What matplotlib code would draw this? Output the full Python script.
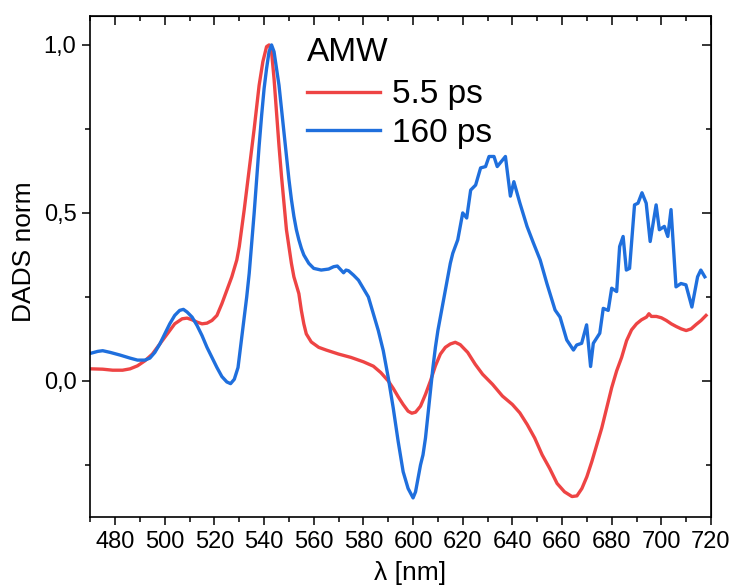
import numpy as np
import matplotlib
matplotlib.use('Agg')
import matplotlib.pyplot as plt
from matplotlib.ticker import MultipleLocator, FuncFormatter

plt.rcParams['font.family'] = ['Liberation Sans', 'DejaVu Sans']

# 5.5 ps component
wl_fast = [470.5, 475, 479, 483, 486, 489, 492, 495, 498, 501, 504, 507, 509, 511,
           513, 515, 517, 519, 521, 523, 525, 527, 529, 530, 532, 534, 536, 538,
           539.5, 541, 542, 543, 544, 545, 546, 547, 548, 549, 550, 551, 552, 554,
           555, 556, 557, 559, 562, 565, 570, 575, 580, 584, 587, 590, 592, 594,
           596, 598, 599.5, 601, 603, 605, 607, 609, 611, 613, 615, 617, 619, 622,
           625, 628, 632, 636, 640, 643, 646, 649, 652, 655, 658, 661, 664, 666,
           668, 670, 672, 674, 676, 678, 680, 682, 684, 686, 688, 690, 692, 694,
           695, 696, 698, 700, 702, 704, 706, 708, 710, 712, 714, 716, 718]
dads_fast = [0.036, 0.035, 0.032, 0.032, 0.036, 0.045, 0.06, 0.08, 0.11, 0.14, 0.17,
             0.185, 0.187, 0.182, 0.175, 0.17, 0.172, 0.18, 0.195, 0.23, 0.27, 0.31,
             0.36, 0.40, 0.51, 0.63, 0.75, 0.88, 0.95, 0.995, 1.0, 0.98, 0.90, 0.80,
             0.70, 0.61, 0.53, 0.45, 0.40, 0.35, 0.31, 0.26, 0.21, 0.17, 0.14, 0.116,
             0.10, 0.092, 0.08, 0.07, 0.057, 0.044, 0.025, 0.0, -0.022, -0.047, -0.07,
             -0.09, -0.096, -0.093, -0.075, -0.04, 0.0, 0.045, 0.08, 0.10, 0.11,
             0.115, 0.108, 0.085, 0.05, 0.02, -0.01, -0.045, -0.07, -0.095, -0.13,
             -0.17, -0.22, -0.26, -0.305, -0.33, -0.344, -0.342, -0.32, -0.285, -0.24,
             -0.19, -0.14, -0.08, -0.02, 0.03, 0.07, 0.12, 0.152, 0.17, 0.182, 0.19,
             0.20, 0.192, 0.192, 0.188, 0.18, 0.17, 0.162, 0.155, 0.15, 0.155, 0.168,
             0.18, 0.195]

# 160 ps component
wl_slow = [470.5, 473, 475, 478, 482, 486, 489, 492, 494, 496, 498, 500, 502, 504,
           506, 507.5, 509, 511, 513, 515, 517, 519, 521, 523, 525, 526.5, 528,
           529.5, 531, 532, 533, 534, 535, 536, 537, 538, 539, 540, 541, 542, 543,
           544, 545, 546, 547, 548, 549, 550, 551, 552, 553, 554, 555, 556, 558,
           560, 563, 566, 568, 569.5, 571, 572, 573, 574, 576, 578, 580, 582, 584,
           586, 588, 590, 592, 594, 596, 598, 600, 601, 602, 603, 604, 605, 606,
           607, 608, 609, 610, 611, 612, 613, 614, 615, 616, 617, 618, 619, 620,
           621.6, 623.2, 625.2, 627.2, 629.2, 630.6, 632.6, 633.9, 637.2, 639.2,
           640.6, 643, 645.9, 648.5, 651.2, 653.9, 657.2, 659.2, 661.9, 664.6,
           665.9, 667.9, 669.9, 671.5, 672.6, 675.2, 676.6, 678.6, 680, 682, 683.2,
           684.6, 685.9, 687.2, 689.2, 690.6, 692.2, 693.9, 695.5, 697.9, 699.2,
           701.2, 702.6, 703.9, 705.9, 707.9, 709.9, 712.3, 714.6, 715.9, 717.5]
dads_slow = [0.083, 0.088, 0.09, 0.085, 0.077, 0.068, 0.062, 0.062, 0.068, 0.085,
             0.11, 0.14, 0.17, 0.195, 0.21, 0.213, 0.205, 0.19, 0.165, 0.135, 0.10,
             0.07, 0.04, 0.013, -0.003, -0.008, 0.005, 0.04, 0.13, 0.19, 0.25, 0.32,
             0.41, 0.50, 0.60, 0.70, 0.79, 0.87, 0.93, 0.98, 1.0, 0.98, 0.93, 0.88,
             0.81, 0.74, 0.67, 0.60, 0.54, 0.49, 0.45, 0.42, 0.395, 0.375, 0.35,
             0.335, 0.33, 0.333, 0.34, 0.342, 0.33, 0.322, 0.33, 0.328, 0.315, 0.30,
             0.275, 0.25, 0.20, 0.15, 0.09, 0.01, -0.08, -0.18, -0.27, -0.32, -0.348,
             -0.33, -0.29, -0.25, -0.22, -0.17, -0.10, -0.03, 0.04, 0.10, 0.15, 0.19,
             0.23, 0.27, 0.31, 0.35, 0.38, 0.40, 0.42, 0.46, 0.50, 0.485, 0.568,
             0.583, 0.634, 0.638, 0.668, 0.668, 0.638, 0.668, 0.55, 0.593, 0.53,
             0.46, 0.41, 0.36, 0.29, 0.211, 0.19, 0.122, 0.092, 0.107, 0.112, 0.167,
             0.043, 0.112, 0.142, 0.216, 0.21, 0.276, 0.266, 0.40, 0.43, 0.33, 0.335,
             0.524, 0.529, 0.56, 0.529, 0.415, 0.524, 0.45, 0.46, 0.43, 0.51, 0.28,
             0.29, 0.286, 0.22, 0.31, 0.33, 0.31]

xticks = [480, 500, 520, 540, 560, 580, 600, 620, 640, 660, 680, 700, 720]
yticks = [0.0, 0.5, 1.0]

red = '#EE4444'
blue = '#1F6FDD'

fig = plt.figure(figsize=(7.32, 5.85), dpi=100)
ax = fig.add_axes([90.3 / 732, (585 - 516.7) / 585, 620.7 / 732, 501 / 585])

ax.plot(wl_fast, dads_fast, color=red, lw=2.4, label='5.5 ps')
ax.plot(wl_slow, dads_slow, color=blue, lw=2.4, label='160 ps')

ax.set_xlim(470, 720)
ax.set_ylim(-0.404, 1.087)
ax.set_xticks(xticks)
ax.xaxis.set_minor_locator(MultipleLocator(10))
ax.set_yticks(yticks)
ax.yaxis.set_minor_locator(MultipleLocator(0.25))
ax.yaxis.set_major_formatter(FuncFormatter(lambda v, p: ('%.1f' % v).replace('.', ',')))

for s in ax.spines.values():
    s.set_linewidth(1.2)
ax.tick_params(which='major', direction='out', length=6, width=1.1, labelsize=17, pad=4)
ax.tick_params(which='minor', direction='out', length=3.5, width=1.1)

# inward ticks on top and right
top = ax.secondary_xaxis('top')
top.set_xticks(xticks)
top.xaxis.set_minor_locator(MultipleLocator(10))
top.tick_params(which='major', direction='in', length=6.5, width=1.1, labeltop=False)
top.tick_params(which='minor', direction='in', length=3.5, width=1.1)
right = ax.secondary_yaxis('right')
right.set_yticks(yticks)
right.yaxis.set_minor_locator(MultipleLocator(0.25))
right.tick_params(which='major', direction='in', length=6.5, width=1.1, labelright=False)
right.tick_params(which='minor', direction='in', length=3.5, width=1.1)

ax.set_xlabel('λ [nm]', fontsize=19)
ax.xaxis.set_label_coords(0.515, -0.089)
ax.set_ylabel('DADS norm', fontsize=19)
ax.yaxis.set_label_coords(-0.088, 0.528)

ax.text(0.349, 0.958, 'AMW', transform=ax.transAxes, fontsize=24, ha='left', va='top')
leg = ax.legend(frameon=False, fontsize=24, loc='upper left',
                bbox_to_anchor=(0.349, 0.873), handlelength=2.2,
                handletextpad=0.35, labelspacing=0.23, borderaxespad=0, borderpad=0)

fig.savefig('out.png', dpi=100)
